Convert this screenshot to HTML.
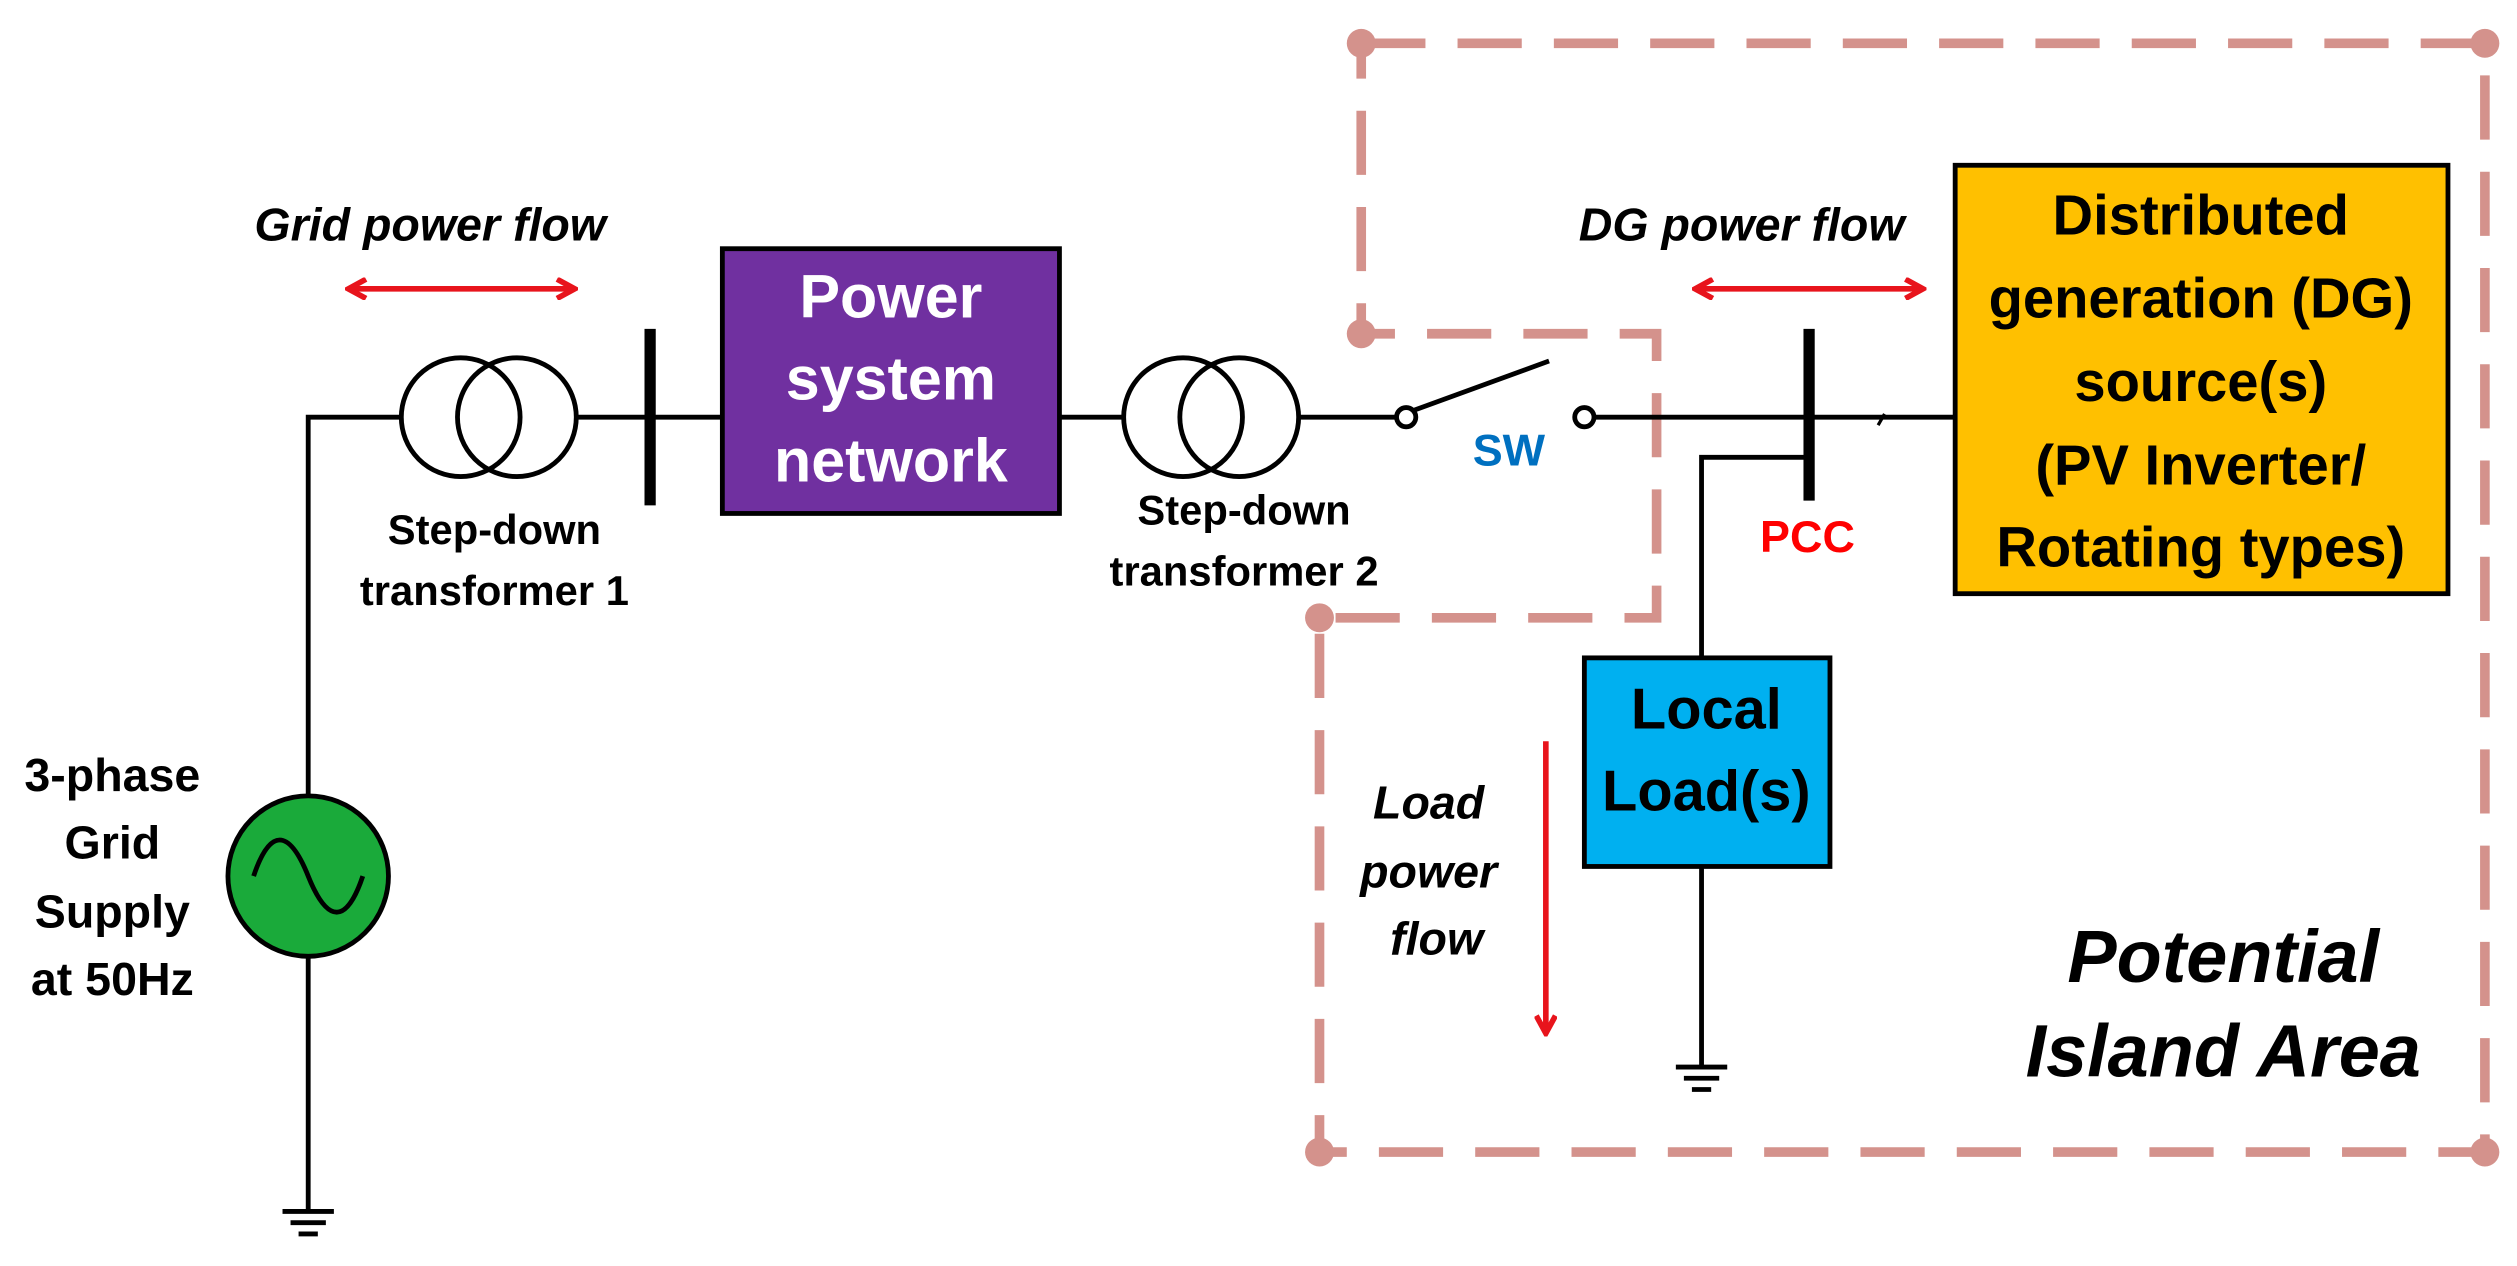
<!DOCTYPE html>
<html><head><meta charset="utf-8"><style>
html,body{margin:0;padding:0;background:#fff;}
svg{display:block;}
text{font-family:"Liberation Sans",Arial,sans-serif;font-weight:bold;}
</style></head><body>
<svg width="2517" height="1266" viewBox="0 0 1568 789" preserveAspectRatio="none" xmlns="http://www.w3.org/2000/svg">
<defs>
<marker id="ah" markerWidth="14" markerHeight="14" refX="12" refY="7" orient="auto-start-reverse" markerUnits="userSpaceOnUse">
<path d="M1,1 L12,7 L1,13" fill="none" stroke="#e8141c" stroke-width="3.5"/></marker>
</defs>
<rect width="1568" height="789" fill="#fff"/>
<path d="M848,27 H1548 V718 H822 V385 H1032 V208 H848 Z" fill="none" stroke="#d4928c" stroke-width="6" stroke-dasharray="40,20"/>
<g fill="#d4928c">
<circle cx="848" cy="27" r="9"/><circle cx="1548" cy="27" r="9"/><circle cx="1548" cy="718" r="9"/>
<circle cx="822" cy="718" r="9"/><circle cx="822" cy="385" r="9"/><circle cx="848" cy="208" r="9"/>
</g>
<g stroke="#000" stroke-width="3" fill="none">
<path d="M192,755 V260 H250"/>
<path d="M176,755 H208 M181,762 H203 M186,769 H198"/>
<circle cx="287" cy="260" r="37"/><circle cx="322" cy="260" r="37"/>
<path d="M359,260 H450"/>
<path d="M405,205 V315" stroke-width="7"/>
<path d="M660,260 H700"/>
<circle cx="737" cy="260" r="37"/><circle cx="772" cy="260" r="37"/>
<path d="M809,260 H870"/>
<circle cx="876" cy="260" r="6"/>
<path d="M880,256 L965,225"/>
<circle cx="987" cy="260" r="6"/>
<path d="M993,260 H1220"/>
<path d="M1127,205 V312" stroke-width="7"/>
<path d="M1170,265 L1174,258" stroke-width="2"/>
<path d="M1127,285 H1060 V410"/>
<path d="M1060,540 V665"/>
<path d="M1044,665 H1076 M1049,672 H1071 M1054,679 H1066"/>
</g>
<circle cx="192" cy="546" r="50" fill="#1aaa3a" stroke="#000" stroke-width="3"/>
<path d="M158,546 C168,516 180,516 192,546 C204,576 216,576 226,546" fill="none" stroke="#000" stroke-width="3"/>
<rect x="450" y="155" width="210" height="165" fill="#7030a0" stroke="#000" stroke-width="3"/>
<rect x="987" y="410" width="153" height="130" fill="#00b0f0" stroke="#000" stroke-width="3"/>
<rect x="1218" y="103" width="307" height="267" fill="#ffc000" stroke="#000" stroke-width="3"/>
<g stroke="#e8141c" stroke-width="3.5">
<line x1="217" y1="180" x2="358" y2="180" marker-start="url(#ah)" marker-end="url(#ah)"/>
<line x1="1056" y1="180" x2="1198" y2="180" marker-start="url(#ah)" marker-end="url(#ah)"/>
<line x1="963" y1="462" x2="963" y2="644" marker-end="url(#ah)"/>
</g>
<g text-anchor="middle">
<text x="555" y="198" font-size="38" fill="#fff">Power</text>
<text x="555" y="249" font-size="38" fill="#fff">system</text>
<text x="555" y="300" font-size="38" fill="#fff">network</text>
<text x="1063" y="454" font-size="36">Local</text>
<text x="1063" y="505" font-size="36">Load(s)</text>
<text x="1371" y="146" font-size="35">Distributed</text>
<text x="1371" y="198" font-size="35">generation (DG)</text>
<text x="1371" y="250" font-size="35">source(s)</text>
<text x="1371" y="302" font-size="35">(PV Inverter/</text>
<text x="1371" y="353" font-size="35">Rotating types)</text>
<text x="268" y="150" font-size="29" font-style="italic">Grid power flow</text>
<text x="1085" y="150" font-size="29" font-style="italic">DG power flow</text>
<text x="308" y="339" font-size="26">Step-down</text>
<text x="308" y="377" font-size="26">transformer 1</text>
<text x="775" y="327" font-size="26">Step-down</text>
<text x="775" y="365" font-size="26">transformer 2</text>
<text x="940" y="290" font-size="28" fill="#0070c0">SW</text>
<text x="1126" y="344" font-size="28" fill="#ff0000">PCC</text>
<text x="70" y="493" font-size="29">3-phase</text>
<text x="70" y="535" font-size="29">Grid</text>
<text x="70" y="578" font-size="29">Supply</text>
<text x="70" y="620" font-size="29">at 50Hz</text>
<text x="890" y="510" font-size="29" font-style="italic">Load</text>
<text x="890" y="553" font-size="29" font-style="italic">power</text>
<text x="895" y="595" font-size="29" font-style="italic">flow</text>
<text x="1385" y="612" font-size="46" font-style="italic">Potential</text>
<text x="1385" y="671" font-size="46" font-style="italic">Island Area</text>
</g>
</svg>
</body></html>
